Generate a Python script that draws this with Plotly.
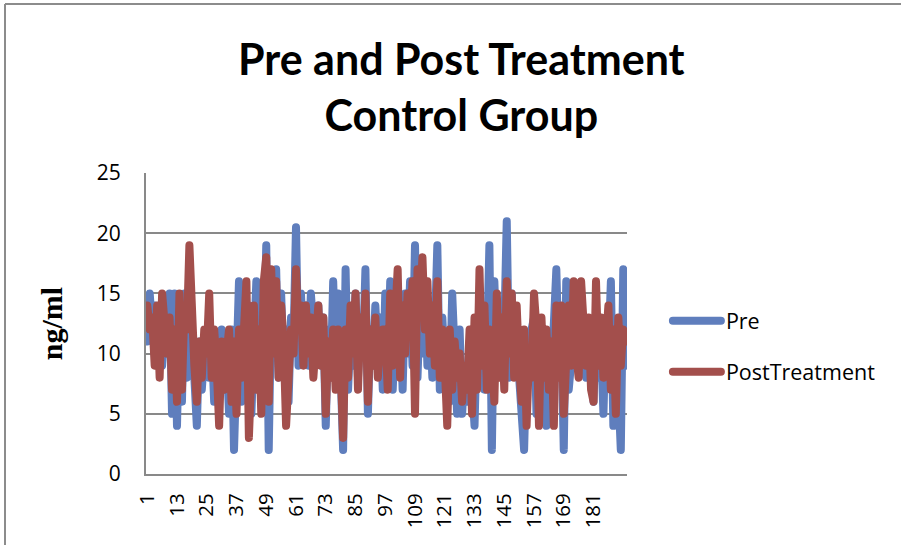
import plotly.graph_objects as go

title_text = "Pre and Post Treatment<br>Control Group"
y_title = "ng/ml"
series_names = ["Pre", "PostTreatment"]

pre = [
    11, 15, 12, 14, 10, 13, 9, 12, 10, 15, 5, 15,
    4, 13, 6, 15, 8, 14, 12, 9, 4, 11, 7, 10,
    12, 8, 11, 6, 10, 9, 12, 7, 10, 5, 12, 2,
    12, 16, 6, 11, 8, 14, 5, 12, 16, 7, 15, 9,
    19, 2, 14, 10, 17, 8, 15, 9, 12, 6, 13, 11,
    20.5, 9, 15, 10, 14, 9, 15, 12, 10, 14, 9, 13,
    4, 12, 8, 16, 9, 15, 7, 2, 17, 7, 12, 9,
    15, 8, 13, 10, 17, 5, 12, 9, 14, 10, 13, 7,
    15, 8, 16, 7, 12, 9, 14, 7, 15, 10, 16, 9,
    19, 8, 14, 10, 16, 9, 13, 8, 12, 19, 7, 13,
    9, 11, 6, 15, 10, 5, 12, 5, 9, 6, 11, 8,
    4, 12, 9, 13, 7, 10, 19, 2, 16, 10, 14, 8,
    12, 21, 8, 15, 9, 11, 8, 6, 2, 10, 8, 12,
    13, 5, 11, 8, 12, 4, 10, 8, 14, 17, 9, 12,
    2, 16, 7, 10, 12, 14, 9, 13, 10, 8, 11, 9,
    6, 13, 8, 11, 5, 13, 10, 16, 4, 12, 8, 2, 17, 9,
]

post = [
    14, 12, 13, 9, 14, 8, 15, 12, 10, 13, 7, 12,
    6, 15, 7, 14, 12, 19, 13, 9, 6, 11, 8, 12,
    10, 15, 8, 12, 9, 4, 11, 7, 10, 12, 6, 11,
    5, 12, 8, 12, 16, 3, 10, 14, 7, 12, 5, 16,
    18, 6, 17, 10, 16, 8, 14, 11, 4, 9, 12, 10,
    17, 12, 14, 9, 14, 10, 13, 8, 11, 14, 9, 13,
    5, 11, 8, 12, 7, 12, 9, 3, 12, 8, 14, 10,
    15, 7, 13, 10, 15, 6, 12, 9, 13, 8, 11, 12,
    12, 7, 15, 9, 13, 17, 8, 14, 10, 15, 12, 16,
    5, 17, 14, 18, 12, 16, 10, 14, 9, 16, 8, 12,
    9, 4, 12, 7, 11, 8, 10, 6, 9, 7, 12, 5,
    13, 7, 17, 9, 14, 7, 12, 10, 6, 15, 8, 13,
    7, 16, 10, 15, 8, 14, 9, 6, 12, 4, 10, 8,
    15, 12, 4, 13, 8, 12, 7, 11, 4, 14, 8, 14,
    5, 12, 14, 9, 16, 10, 8, 16, 12, 9, 13, 7,
    6, 16, 9, 13, 8, 11, 14, 7, 12, 5, 13, 9, 12, 11,
]

x_idx = list(range(1, len(pre) + 1))
tick_vals = list(range(1, 182, 12))
y_ticks = [0, 5, 10, 15, 20, 25]

colors = ["#5F7EBD", "#A34F4C"]

fig = go.Figure()
for name, vals, col, grp in zip(series_names, [pre, post], colors, ["a", "b"]):
    fig.add_trace(go.Scatter(
        x=x_idx, y=vals, mode="lines", name=name, legendgroup=grp,
        line=dict(color=col, width=8),
    ))

fig.update_layout(
    width=901, height=545,
    margin=dict(l=146, r=274, t=173, b=71),
    paper_bgcolor="white", plot_bgcolor="white",
    title=dict(text=title_text, x=0.512, xanchor="center", y=0.863, yanchor="top",
               font=dict(family="Lato", size=43, color="black", weight="bold")),
    legend=dict(x=1.085, xanchor="left", y=0.424, yanchor="middle",
                font=dict(family="Open Sans", size=21.5, color="black"),
                tracegroupgap=20, traceorder="grouped", itemwidth=48,
                bgcolor="rgba(0,0,0,0)"),
    xaxis=dict(range=[0.5, len(pre) + 0.5], tickvals=tick_vals, ticktext=[str(v) for v in tick_vals],
               tickangle=-90, showgrid=False, showline=True, linecolor="#898989", linewidth=2,
               ticks="", zeroline=False, ticklabelstandoff=9,
               tickfont=dict(family="Open Sans", size=20.5, color="black")),
    yaxis=dict(range=[0, 25], tickvals=y_ticks, showgrid=True, gridcolor="#898989", gridwidth=2,
               showline=True, linecolor="#898989", linewidth=2, ticks="", zeroline=False,
               ticklabelstandoff=19,
               title=dict(text=y_title, standoff=25,
                          font=dict(family="Liberation Serif", size=30, color="black", weight="bold")),
               tickfont=dict(family="Open Sans", size=21, color="black")),
    shapes=[
        dict(type="line", xref="paper", yref="paper",
             x0=(5 - 146) / 481, x1=(901 - 146) / 481, y0=(545 - 4 - 71) / 301, y1=(545 - 4 - 71) / 301,
             line=dict(color="#8C8C8C", width=2)),
        dict(type="line", xref="paper", yref="paper",
             x0=(5 - 146) / 481, x1=(5 - 146) / 481, y0=(545 - 4 - 71) / 301, y1=-71 / 301,
             line=dict(color="#8C8C8C", width=2)),
    ],
)

fig.write_html("out.html", config={"displayModeBar": False}, post_script="""
var s=document.createElement('style');
s.innerHTML='body{margin:0 !important;} .js-line{stroke-linejoin:round !important;stroke-linecap:round !important;}';
document.head.appendChild(s);
""")
